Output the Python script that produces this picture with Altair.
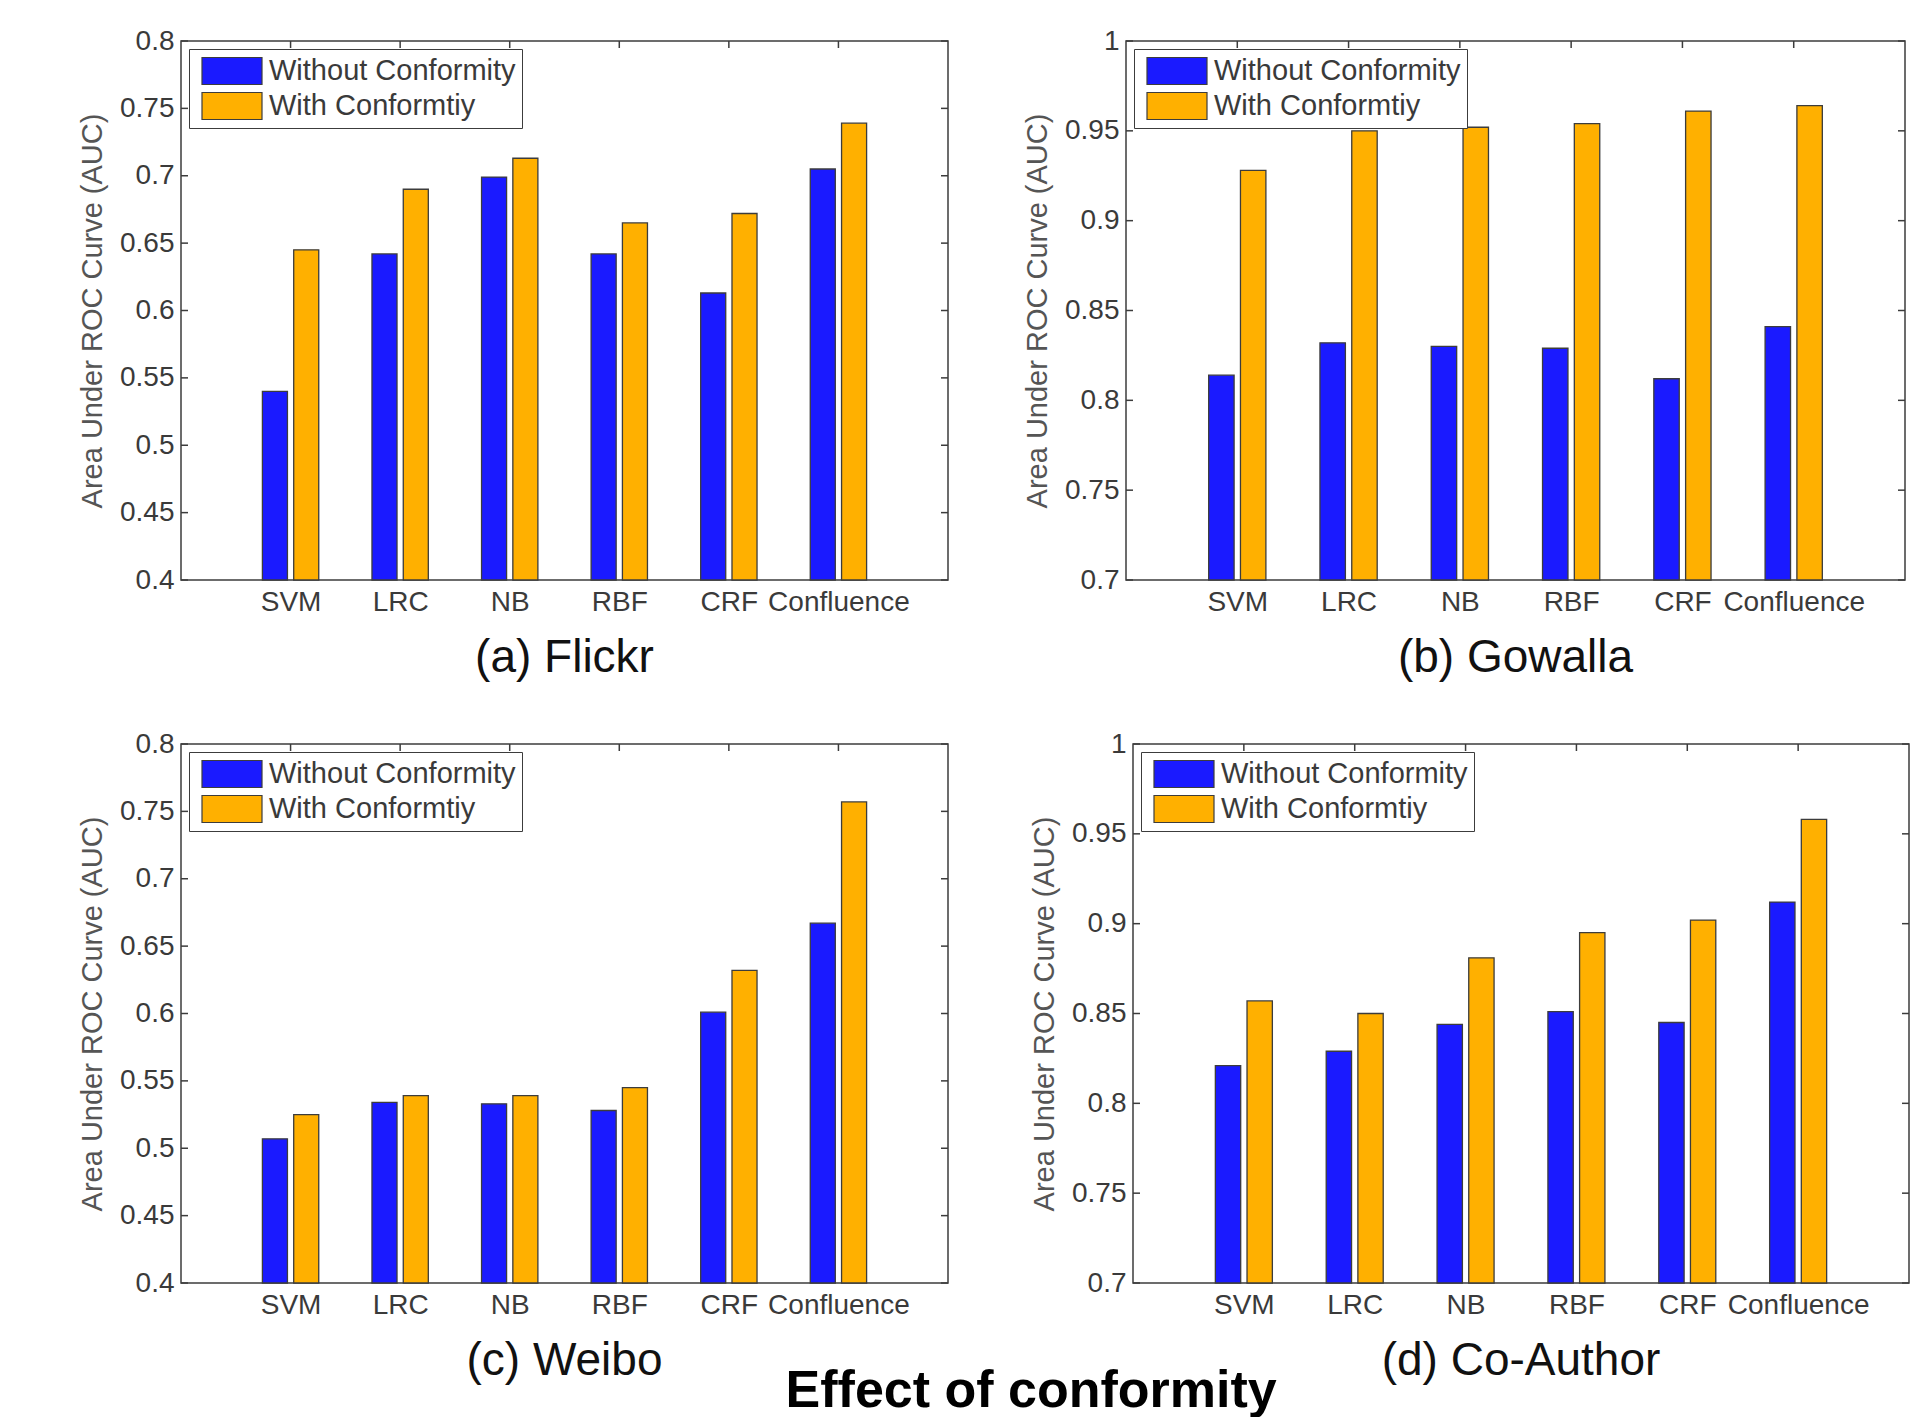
import altair as alt
import pandas as pd

categories = ["SVM", "LRC", "NB", "RBF", "CRF", "Confluence"]
series_names = ["Without Conformity", "With Conformtiy"]

flickr_without = [0.540, 0.642, 0.699, 0.642, 0.613, 0.705]
flickr_with = [0.645, 0.690, 0.713, 0.665, 0.672, 0.739]

gowalla_without = [0.814, 0.832, 0.830, 0.829, 0.812, 0.841]
gowalla_with = [0.928, 0.950, 0.952, 0.954, 0.961, 0.964]

weibo_without = [0.507, 0.534, 0.533, 0.528, 0.601, 0.667]
weibo_with = [0.525, 0.539, 0.539, 0.545, 0.632, 0.757]

coauthor_without = [0.821, 0.829, 0.844, 0.851, 0.845, 0.912]
coauthor_with = [0.857, 0.850, 0.881, 0.895, 0.902, 0.958]

ticks_low = [0.4, 0.45, 0.5, 0.55, 0.6, 0.65, 0.7, 0.75, 0.8]
ticks_high = [0.7, 0.75, 0.8, 0.85, 0.9, 0.95, 1.0]

panel_titles = ["(a) Flickr", "(b) Gowalla", "(c) Weibo", "(d) Co-Author"]
main_title = "Effect of conformity"
y_title = "Area Under ROC Curve (AUC)"

BLUE = "#1a1aff"
ORANGE = "#ffb000"
FRAME = "#3c3c3c"
TEXT = "#3a3a3a"
FONT = "Liberation Sans, Arial, sans-serif"

PLOT_H = 539
GROUP_W = 0.5714  # MATLAB grouped bar group width for 2 series
BAR_W = GROUP_W / 2 * 0.8

cat_expr = "[" + ",".join("'" + c + "'" for c in categories) + "][datum.value - 1]"


def make_table(without, with_):
    rows = []
    for i, cat in enumerate(categories):
        pos = i + 1
        for k, (name, vals) in enumerate(zip(series_names, [without, with_])):
            center = pos - GROUP_W / 4 + k * GROUP_W / 2
            rows.append({
                "category": cat,
                "series": name,
                "order": k,
                "value": vals[i],
                "x0": center - BAR_W / 2,
                "x1": center + BAR_W / 2,
            })
    return pd.DataFrame(rows)


def panel(title, without, with_, ymin, ymax, yvals, width, title_pad):
    df = make_table(without, with_)
    xenc = alt.X(
        "x0:Q",
        scale=alt.Scale(domain=[0, 7], nice=False, zero=False),
        axis=alt.Axis(
            values=list(range(1, len(categories) + 1)),
            labelExpr=cat_expr,
            title=None,
            ticks=False,
            domain=False,
            grid=False,
            labelFontSize=28,
            labelColor=TEXT,
            labelFont=FONT,
            labelPadding=8,
            labelFlush=False,
        ),
    )
    yenc = alt.Y(
        "value:Q",
        scale=alt.Scale(domain=[ymin, ymax], nice=False, zero=False),
        axis=alt.Axis(
            values=yvals,
            format=".2~f",
            title=y_title,
            titleFontSize=29,
            titleFontWeight="normal",
            titleColor="#555555",
            titleFont=FONT,
            titlePadding=title_pad,
            ticks=False,
            domain=False,
            grid=False,
            labelFontSize=28,
            labelColor=TEXT,
            labelFont=FONT,
            labelPadding=7,
            labelFlush=False,
        ),
    )
    bars = alt.Chart(df).mark_bar(stroke=FRAME, strokeWidth=1.3).encode(
        x=xenc,
        x2="x1:Q",
        y=yenc,
        y2=alt.datum(ymin),
        color=alt.Color(
            "series:N",
            scale=alt.Scale(domain=series_names, range=[BLUE, ORANGE]),
            legend=alt.Legend(
                title=None,
                orient="top-left",
                offset=8,
                padding=6,
                fillColor="white",
                strokeColor=FRAME,
                cornerRadius=0,
                symbolType="M-2,-0.9H2V0.9H-2Z",
                symbolSize=900,
                symbolStrokeColor=FRAME,
                symbolStrokeWidth=1.2,
                symbolOpacity=1,
                symbolOffset=21,
                labelOffset=21,
                labelFontSize=29,
                labelFont=FONT,
                labelColor=TEXT,
                rowPadding=3,
                labelLimit=400,
            ),
        ),
        order="order:Q",
    )
    ydf = pd.DataFrame({"value": yvals})
    xdf = pd.DataFrame({"x0": list(range(1, len(categories) + 1))})
    lt = alt.Chart(ydf).mark_rule(color=FRAME, strokeWidth=1.5).encode(
        y=yenc, x=alt.value(0), x2=alt.value(7)
    )
    rt = alt.Chart(ydf).mark_rule(color=FRAME, strokeWidth=1.5).encode(
        y=yenc, x=alt.value(width - 7), x2=alt.value(width)
    )
    tt = alt.Chart(xdf).mark_rule(color=FRAME, strokeWidth=1.5).encode(
        x=xenc, y=alt.value(0), y2=alt.value(7)
    )
    return alt.layer(bars, lt, rt, tt).properties(
        width=width,
        height=PLOT_H,
        title=alt.TitleParams(
            title,
            orient="bottom",
            anchor="middle",
            frame="group",
            fontSize=46,
            fontWeight="normal",
            font=FONT,
            color="#111111",
            offset=20,
        ),
    )


pa = panel(panel_titles[0], flickr_without, flickr_with, 0.4, 0.8, ticks_low, 767, 12)
pb = panel(panel_titles[1], gowalla_without, gowalla_with, 0.7, 1.0, ticks_high, 779, 12)
pc = panel(panel_titles[2], weibo_without, weibo_with, 0.4, 0.8, ticks_low, 767, 12)
pd_ = panel(panel_titles[3], coauthor_without, coauthor_with, 0.7, 1.0, ticks_high, 776, 12)

row1 = alt.hconcat(pa, pb, spacing=72).resolve_scale(color="independent", x="independent", y="independent")
row2 = alt.hconcat(pc, pd_, spacing=79).resolve_scale(color="independent", x="independent", y="independent")

chart = alt.vconcat(row1, row2, spacing=47).resolve_scale(
    color="independent", x="independent", y="independent"
).properties(
    title=alt.TitleParams(
        main_title,
        orient="bottom",
        anchor="middle",
        fontSize=52,
        fontWeight="bold",
        font=FONT,
        color="black",
        offset=-19,
        dx=37,
    ),
    padding={"left": 69, "top": 18, "right": 0, "bottom": 0},
).configure(
    background="white"
).configure_view(
    stroke=FRAME, strokeWidth=1.5
)

chart.save("out.html", embed_options={"renderer": "svg", "actions": False})
